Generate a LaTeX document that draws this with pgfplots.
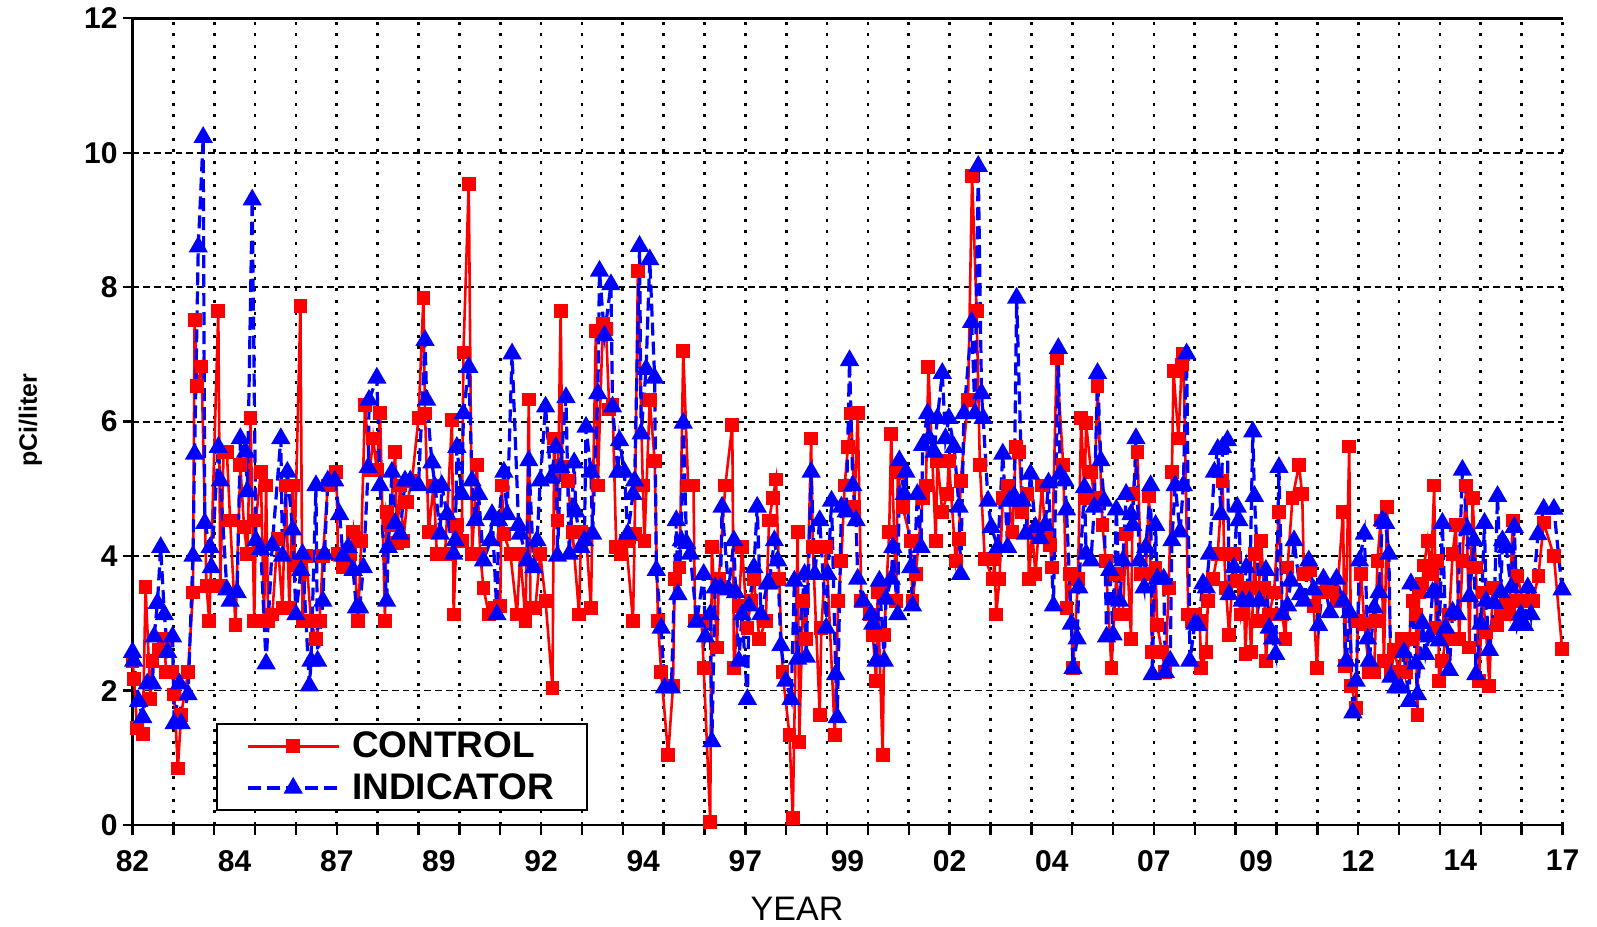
\documentclass[border=0pt]{standalone}
\usepackage{fontspec}
\setmainfont{Liberation Sans}
\usepackage{pgfplots}
\pgfplotsset{compat=1.18}
\usepackage{pgfplotstable}

\pgfplotstableread{
year val
1982.00 2.44
1982.04 2.17
1982.11 1.44
1982.25 1.35
1982.32 3.54
1982.44 1.87
1982.49 2.44
1982.65 2.60
1982.78 2.77
1982.82 2.27
1982.98 2.27
1983.02 1.94
1983.11 0.84
1983.19 1.64
1983.36 2.27
1983.48 3.46
1983.52 7.51
1983.58 6.53
1983.69 6.82
1983.81 3.56
1983.88 3.03
1984.10 7.64
1984.15 3.56
1984.23 5.55
1984.31 5.55
1984.39 4.53
1984.52 2.97
1984.64 5.35
1984.73 4.43
1984.81 4.03
1984.89 6.05
1984.98 3.03
1985.02 4.53
1985.14 5.25
1985.22 3.03
1985.27 5.05
1985.32 3.03
1985.42 3.13
1985.55 4.26
1985.67 3.23
1985.75 5.05
1985.84 3.23
1985.92 5.05
1985.96 3.86
1986.11 7.72
1986.16 3.03
1986.25 4.00
1986.37 3.03
1986.49 2.77
1986.58 3.03
1986.66 4.00
1986.78 5.05
1986.99 5.25
1987.03 4.03
1987.15 3.83
1987.32 4.03
1987.40 4.36
1987.52 3.03
1987.60 4.23
1987.69 6.25
1987.81 5.28
1987.89 5.75
1987.98 5.28
1988.06 6.13
1988.18 3.03
1988.22 4.66
1988.30 4.46
1988.43 5.55
1988.47 4.20
1988.55 5.05
1988.63 4.23
1988.72 4.80
1988.84 5.12
1989.00 6.05
1989.12 7.84
1989.16 6.12
1989.25 4.36
1989.37 5.05
1989.45 4.03
1989.65 4.03
1989.82 6.03
1989.86 3.13
1989.94 4.46
1990.06 4.23
1990.10 7.03
1990.23 9.54
1990.31 4.03
1990.43 5.35
1990.51 4.03
1990.59 3.53
1990.72 3.13
1990.88 3.23
1991.00 3.26
1991.04 5.05
1991.09 4.33
1991.25 4.03
1991.41 3.13
1991.49 4.03
1991.62 3.03
1991.70 6.33
1991.74 3.23
1991.86 3.23
1991.98 4.03
1992.11 3.33
1992.28 2.04
1992.32 5.75
1992.40 4.53
1992.48 7.64
1992.52 5.32
1992.65 5.12
1992.77 4.36
1992.93 3.13
1992.98 4.36
1993.10 4.33
1993.22 3.23
1993.34 7.35
1993.39 5.05
1993.51 7.45
1993.59 7.38
1993.67 6.18
1993.75 6.25
1993.84 4.13
1993.96 4.03
1994.08 4.23
1994.25 3.03
1994.29 4.33
1994.37 8.24
1994.49 5.05
1994.53 4.23
1994.66 6.32
1994.78 5.42
1994.86 3.03
1994.94 2.27
1995.11 1.04
1995.23 2.07
1995.27 3.66
1995.39 3.83
1995.48 7.05
1995.60 5.05
1995.73 5.05
1995.77 3.03
1995.93 3.03
1995.98 2.33
1996.14 0.05
1996.18 4.13
1996.31 2.64
1996.35 3.66
1996.51 5.05
1996.68 5.95
1996.72 2.33
1996.84 3.26
1996.92 4.13
1997.05 2.93
1997.13 3.33
1997.21 3.66
1997.34 2.77
1997.50 3.03
1997.58 4.53
1997.67 4.86
1997.75 5.14
1997.83 3.66
1997.91 2.27
1998.08 1.34
1998.16 0.10
1998.28 4.36
1998.32 1.24
1998.41 3.33
1998.49 2.77
1998.61 5.75
1998.65 4.13
1998.82 1.64
1998.86 2.93
1998.98 4.13
1999.19 1.34
1999.27 3.33
1999.35 3.93
1999.43 5.05
1999.51 5.62
1999.59 6.12
1999.67 4.73
1999.75 6.13
1999.84 3.33
2000.04 3.13
2000.12 2.83
2000.20 2.14
2000.24 3.46
2000.36 1.04
2000.40 2.83
2000.52 4.36
2000.57 5.82
2000.69 3.33
2000.73 5.25
2000.85 4.73
2001.05 4.23
2001.09 3.33
2001.17 3.73
2001.34 4.86
2001.42 5.05
2001.48 6.81
2001.66 4.23
2001.70 5.42
2001.82 4.66
2001.94 4.92
2001.98 5.42
2002.15 3.93
2002.23 4.26
2002.27 5.12
2002.45 6.32
2002.55 9.65
2002.66 7.64
2002.74 5.35
2002.86 3.96
2003.06 3.66
2003.10 3.96
2003.14 3.13
2003.22 3.66
2003.30 4.86
2003.42 5.05
2003.54 4.36
2003.62 5.62
2003.70 5.55
2003.78 4.66
2003.90 4.92
2003.94 3.66
2004.02 4.36
2004.10 3.73
2004.26 5.05
2004.34 4.33
2004.46 4.16
2004.50 3.83
2004.62 6.95
2004.78 5.35
2004.86 3.23
2004.94 3.73
2005.02 2.33
2005.14 3.66
2005.22 6.05
2005.30 4.86
2005.34 5.98
2005.46 5.25
2005.54 4.86
2005.62 6.53
2005.74 4.46
2005.82 3.93
2005.96 2.33
2006.08 3.73
2006.16 3.13
2006.24 3.13
2006.32 4.33
2006.44 2.77
2006.48 4.92
2006.60 5.55
2006.68 3.73
2006.80 3.73
2006.88 4.89
2006.96 2.57
2007.04 3.83
2007.08 2.97
2007.20 2.57
2007.28 2.27
2007.36 3.53
2007.44 5.25
2007.48 6.75
2007.60 5.75
2007.68 6.85
2007.72 7.01
2007.84 3.13
2007.92 3.03
2008.00 3.13
2008.12 3.03
2008.16 2.33
2008.28 2.57
2008.32 3.33
2008.44 3.66
2008.56 4.03
2008.68 5.12
2008.72 4.03
2008.76 3.53
2008.84 2.83
2008.96 4.03
2009.04 3.63
2009.12 3.13
2009.20 3.46
2009.24 2.54
2009.30 3.53
2009.38 2.57
2009.46 4.03
2009.54 3.03
2009.62 4.23
2009.70 3.53
2009.74 2.44
2009.82 3.13
2009.94 3.46
2010.06 4.66
2010.14 3.13
2010.22 2.77
2010.27 3.83
2010.39 4.86
2010.55 5.35
2010.63 4.92
2010.67 3.73
2010.83 3.79
2010.91 3.26
2010.99 2.33
2011.07 3.46
2011.23 3.53
2011.35 3.46
2011.47 3.33
2011.63 4.66
2011.67 2.37
2011.78 5.63
2011.83 2.07
2011.95 1.74
2011.99 3.03
2012.07 3.73
2012.15 2.99
2012.27 2.27
2012.39 2.27
2012.43 3.03
2012.47 3.93
2012.55 4.53
2012.63 2.44
2012.71 4.73
2012.80 2.24
2012.88 2.60
2013.00 2.27
2013.08 2.77
2013.16 2.27
2013.25 2.77
2013.33 3.33
2013.41 3.13
2013.45 1.64
2013.49 3.46
2013.57 3.59
2013.61 3.86
2013.70 4.23
2013.78 3.73
2013.86 5.05
2013.90 2.93
2013.94 3.93
2013.98 2.14
2014.06 2.44
2014.14 2.77
2014.23 3.13
2014.31 4.03
2014.39 4.46
2014.47 2.77
2014.55 3.93
2014.64 5.05
2014.72 2.64
2014.80 4.86
2014.88 3.83
2014.96 2.14
2015.04 3.46
2015.13 2.87
2015.21 2.07
2015.29 3.53
2015.41 2.97
2015.49 3.13
2015.62 3.33
2015.70 3.13
2015.78 4.53
2015.86 3.33
2015.90 3.70
2016.03 3.33
2016.11 3.33
2016.27 3.33
2016.41 3.70
2016.54 4.50
2016.79 4.00
2016.99 2.62
}\ctrldata

\pgfplotstableread{
year val
1982.00 2.57
1982.03 2.44
1982.15 1.84
1982.25 1.60
1982.36 2.10
1982.49 2.10
1982.53 2.80
1982.61 3.30
1982.69 4.13
1982.78 3.13
1982.86 2.57
1982.98 2.80
1983.02 1.51
1983.15 2.10
1983.19 1.51
1983.36 1.94
1983.48 4.00
1983.52 5.52
1983.61 8.60
1983.73 10.23
1983.77 4.49
1983.90 4.13
1983.93 3.83
1984.10 5.62
1984.15 5.12
1984.31 3.50
1984.39 3.33
1984.56 3.46
1984.64 5.75
1984.77 5.55
1984.81 4.96
1984.93 9.30
1985.02 4.23
1985.14 4.10
1985.27 2.40
1985.42 4.16
1985.63 5.75
1985.67 4.00
1985.79 5.25
1985.92 4.39
1986.00 3.13
1986.12 3.79
1986.16 4.03
1986.33 2.07
1986.37 2.44
1986.49 5.05
1986.53 2.44
1986.66 3.33
1986.70 4.03
1986.78 5.12
1986.95 5.12
1987.07 4.62
1987.15 4.00
1987.28 4.13
1987.40 3.79
1987.48 3.23
1987.56 3.23
1987.65 3.83
1987.77 5.32
1987.79 6.32
1987.98 6.65
1988.06 5.05
1988.22 3.33
1988.26 4.13
1988.35 5.25
1988.43 4.49
1988.55 4.33
1988.67 5.12
1988.80 5.12
1989.00 5.05
1989.16 7.21
1989.20 6.32
1989.33 5.39
1989.41 5.02
1989.53 4.33
1989.57 5.05
1989.70 4.62
1989.86 4.03
1989.90 4.23
1989.94 5.62
1990.06 4.92
1990.10 6.12
1990.23 6.81
1990.31 5.12
1990.39 4.53
1990.47 4.92
1990.59 3.93
1990.76 4.23
1990.80 4.62
1990.92 3.13
1990.96 4.53
1991.09 5.25
1991.17 4.62
1991.29 7.01
1991.45 4.46
1991.49 4.33
1991.66 3.93
1991.70 5.42
1991.82 3.83
1991.90 4.23
1991.98 5.12
1992.11 6.22
1992.24 5.16
1992.36 5.62
1992.40 4.00
1992.48 5.32
1992.61 6.36
1992.69 4.03
1992.81 5.39
1992.85 4.66
1992.98 4.13
1993.06 4.23
1993.10 5.92
1993.22 5.25
1993.26 4.33
1993.39 6.42
1993.43 8.24
1993.55 7.28
1993.71 8.04
1993.75 6.22
1993.88 5.25
1993.92 5.72
1994.04 5.25
1994.12 4.33
1994.25 4.92
1994.29 5.12
1994.41 8.61
1994.45 5.82
1994.57 6.78
1994.66 8.41
1994.78 6.65
1994.82 3.79
1994.94 2.93
1995.02 2.04
1995.19 2.04
1995.31 4.53
1995.35 3.43
1995.43 4.23
1995.48 5.98
1995.56 4.19
1995.65 4.03
1995.81 3.03
1995.98 3.73
1996.02 2.80
1996.14 3.13
1996.18 1.24
1996.26 3.53
1996.39 3.53
1996.43 4.73
1996.59 3.50
1996.72 4.23
1996.76 3.46
1996.84 2.44
1996.92 3.13
1997.05 1.87
1997.09 3.26
1997.21 3.83
1997.29 4.73
1997.38 3.13
1997.54 3.59
1997.58 3.59
1997.71 4.23
1997.79 3.93
1997.87 2.67
1997.99 2.14
1998.12 1.87
1998.20 3.63
1998.28 2.47
1998.45 3.73
1998.49 2.50
1998.61 5.25
1998.70 3.73
1998.82 4.53
1998.98 2.93
1999.02 3.73
1999.11 4.82
1999.21 2.24
1999.25 1.60
1999.35 4.73
1999.47 4.66
1999.55 6.91
1999.63 5.05
1999.71 4.53
1999.75 3.66
1999.88 3.33
2000.08 3.13
2000.12 2.99
2000.20 2.44
2000.28 3.63
2000.40 2.44
2000.44 3.36
2000.57 3.66
2000.61 4.13
2000.73 3.13
2000.77 5.42
2000.89 4.92
2000.93 5.25
2001.05 3.83
2001.09 3.26
2001.21 4.92
2001.30 4.13
2001.34 5.65
2001.46 6.12
2001.50 5.75
2001.62 5.55
2001.70 6.05
2001.82 6.72
2001.90 5.75
2001.98 6.05
2002.11 5.62
2002.23 4.73
2002.27 3.73
2002.35 6.12
2002.54 7.48
2002.62 6.12
2002.70 9.80
2002.78 6.42
2002.82 6.05
2002.94 4.82
2003.02 4.43
2003.18 4.13
2003.30 5.52
2003.42 4.13
2003.46 4.82
2003.58 4.89
2003.64 7.84
2003.78 4.82
2003.86 4.33
2003.98 5.22
2004.10 4.43
2004.22 4.26
2004.34 4.46
2004.42 5.09
2004.54 3.26
2004.66 7.09
2004.70 5.22
2004.82 5.12
2004.86 4.69
2004.98 2.99
2005.02 2.33
2005.12 2.77
2005.16 3.53
2005.30 5.02
2005.34 4.03
2005.46 3.93
2005.54 4.73
2005.62 6.72
2005.70 5.42
2005.78 4.82
2005.84 2.80
2005.92 3.79
2006.00 2.83
2006.08 4.69
2006.16 3.33
2006.24 3.93
2006.32 4.92
2006.44 4.62
2006.48 4.46
2006.56 5.75
2006.64 3.93
2006.76 3.53
2006.80 4.13
2006.92 5.05
2006.96 2.24
2007.04 4.46
2007.08 3.66
2007.24 3.66
2007.28 2.27
2007.40 2.44
2007.44 4.23
2007.52 5.05
2007.64 4.36
2007.72 5.05
2007.80 7.01
2007.88 2.44
2008.00 2.99
2008.08 2.97
2008.20 3.59
2008.28 3.53
2008.36 4.03
2008.48 5.25
2008.56 5.59
2008.64 4.62
2008.68 5.62
2008.80 5.72
2008.84 3.43
2008.96 3.83
2009.04 4.73
2009.08 4.53
2009.16 3.33
2009.26 3.83
2009.34 3.33
2009.42 5.85
2009.46 4.89
2009.58 3.33
2009.74 3.79
2009.82 2.93
2009.90 2.77
2009.98 2.54
2010.06 5.32
2010.14 3.13
2010.27 3.26
2010.35 3.63
2010.43 4.23
2010.59 3.43
2010.67 3.33
2010.79 3.93
2010.91 3.50
2011.03 2.97
2011.15 3.66
2011.31 3.16
2011.47 3.66
2011.63 3.33
2011.71 2.44
2011.79 3.16
2011.87 1.67
2011.95 2.14
2012.03 3.93
2012.15 4.33
2012.23 2.77
2012.27 2.44
2012.39 3.23
2012.51 3.46
2012.59 4.53
2012.67 4.49
2012.75 4.03
2012.80 2.20
2012.92 2.04
2013.04 2.04
2013.12 2.57
2013.25 1.84
2013.29 3.59
2013.41 2.40
2013.45 1.94
2013.57 3.00
2013.65 2.54
2013.74 2.80
2013.82 3.46
2013.90 3.46
2013.98 2.74
2014.06 4.49
2014.14 2.93
2014.23 2.30
2014.31 3.17
2014.43 3.13
2014.55 5.28
2014.68 4.39
2014.72 3.40
2014.84 4.23
2014.88 2.24
2015.00 2.99
2015.09 4.49
2015.13 3.33
2015.21 2.60
2015.33 3.30
2015.41 4.89
2015.49 3.46
2015.53 4.23
2015.62 4.13
2015.74 3.53
2015.82 4.43
2015.90 2.97
2015.98 3.13
2016.07 2.97
2016.15 3.53
2016.23 3.13
2016.40 4.32
2016.54 4.70
2016.79 4.70
2016.99 3.50
}\inddata

\begin{document}
\begin{tikzpicture}
\path[use as bounding box] (-66.25pt,-51pt) rectangle (732.25pt,412.5pt);
\begin{axis}[
  scale only axis,
  width=715pt, height=403.35pt,
  xmin=1982, xmax=2017, ymin=0, ymax=12,
  clip=false,
  axis line style={draw=none},
  tick align=outside,
  xtick pos=left, ytick pos=left,
  xtick={1982,1984.5,1987,1989.5,1992,1994.5,1997,1999.5,2002,2004.5,2007,2009.5,2012,2014.5,2017},
  xticklabels={82,84,87,89,92,94,97,99,02,04,07,09,12,14,17},
  minor xtick={1982,1983,...,2017},
  ytick={0,2,...,12},
  major tick length=5pt,
  minor tick length=5pt,
  major x tick style={draw=none},
  minor x tick style={black, line width=1.2pt},
  ytick style={black, line width=1.2pt},
  xmajorgrids=false, xminorgrids=true, ymajorgrids=true,
  minor x grid style={black, line width=1.4pt, dash pattern=on 1.5pt off 4.3pt},
  major y grid style={black, line width=0.9pt, dash pattern=on 3.4pt off 2pt},
  /pgf/number format/assume math mode=true,
  tick label style={font=\bfseries\fontsize{15}{15}\selectfont},
  xticklabel style={yshift=-4pt},
  yticklabel style={xshift=1pt},
  xlabel={YEAR},
  xlabel style={at={(axis description cs:0.4647,0)}, anchor=north, yshift=-36pt, inner sep=0pt, font=\fontsize{17}{17}\selectfont},
  ylabel={pCi/liter},
  ylabel style={at={(axis description cs:-0.0713,0.502)}, anchor=center, font=\bfseries\fontsize{12.5}{12.5}\selectfont},
  legend image code/.code={\draw[mark repeat=2,mark phase=2,#1] plot coordinates {(0pt,0pt) (22.85pt,0pt) (45.7pt,0pt)};},
  legend style={at={(0.0584,0.0174)}, anchor=south west, draw=black, line width=0.9pt,
    inner xsep=14.5pt, inner ysep=1.8pt, row sep=2.5pt,
    font=\bfseries\fontsize{18.5}{18.5}\selectfont,
    nodes={inner sep=2pt},
    /tikz/every odd column/.append style={column sep=3.8pt},
    /tikz/every even column/.append style={column sep=0pt}},
  legend cell align=left,
]
\draw[line width=1.3pt] (rel axis cs:0,1) -- (rel axis cs:0,0) -- (rel axis cs:1,0);
\draw[line width=1.3pt] (rel axis cs:0,1) -- (rel axis cs:1,1);
\addplot[red, line width=1.3pt, mark=square*, mark size=2.8pt, mark options={solid, fill=red}] table[x=year, y=val] {\ctrldata};
\addlegendentry{CONTROL}
\addplot[blue, line width=1.6pt, dash pattern=on 6.5pt off 3pt, mark=triangle*, mark size=4pt, mark options={solid, fill=blue}] table[x=year, y=val] {\inddata};
\addlegendentry{INDICATOR}
\end{axis}
\end{tikzpicture}
\end{document}
